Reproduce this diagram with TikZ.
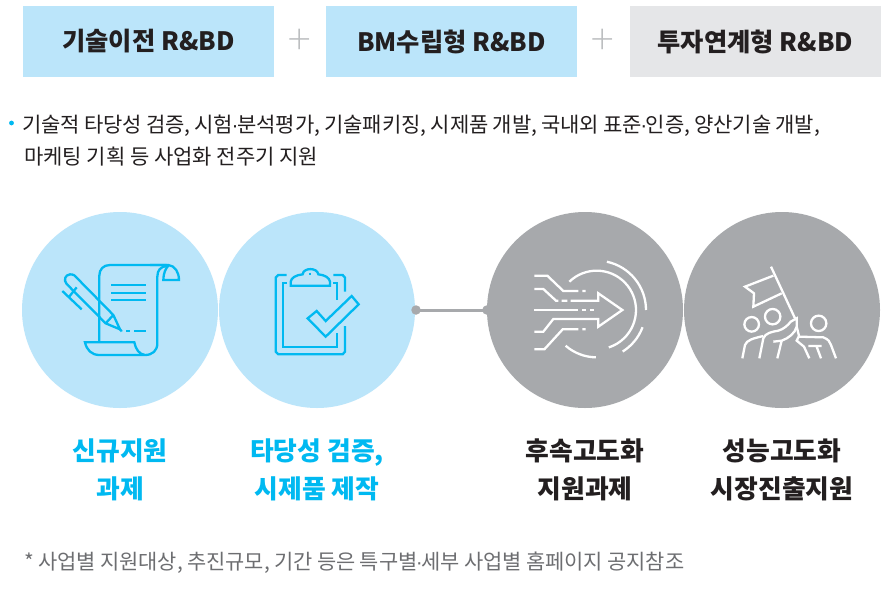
\documentclass[tikz,border=0pt]{standalone}
\usepackage{fontspec}
\setmainfont{Noto Sans CJK KR}
\newfontfamily\plusfont{Lato Light}
\newfontfamily\dotfont{Liberation Sans}
\newcommand{\middotk}{\kern-1.5pt{\dotfont ·}\kern-1.5pt}
\definecolor{lblue}{HTML}{BBE5FA}
\definecolor{lgray}{HTML}{E5E6E8}
\definecolor{cgray}{HTML}{A7A9AC}
\definecolor{cyanc}{HTML}{00B9F1}
\definecolor{ink}{HTML}{231F20}
\definecolor{plusc}{HTML}{BCBEC0}
\definecolor{capc}{HTML}{6D6E71}
\tikzset{
  topbox/.style={minimum width=251pt,minimum height=71pt,inner sep=0pt,text=ink,font=\fontsize{25.3}{30}\selectfont\bfseries},
  bigc/.style={circle,minimum size=196pt,inner sep=0pt},
  dotn/.style={circle,fill=cgray,minimum size=9.5pt,inner sep=0pt},
  lab/.style={align=center,font=\fontsize{25.8}{38}\selectfont\bfseries,inner sep=0pt},
  body/.style={anchor=west,inner sep=0pt,text=ink,font=\fontsize{21}{21}\selectfont},
  capt/.style={anchor=west,inner sep=0pt,text=capc,font=\fontsize{20.9}{21}\selectfont},
  plusn/.style={text=plusc,inner sep=0pt,font=\plusfont\fontsize{42}{42}\selectfont},
  ico/.style={line width=2.3pt,line join=miter},
}
\begin{document}
\begin{tikzpicture}[x=1pt,y=-1pt]
\useasboundingbox (0,0) rectangle (893,595);
\fill[white] (0,0) rectangle (893,595);
\node[topbox,fill=lblue] (b1) at (148.5,41.5) {\raisebox{-1pt}{기술이전 R\&BD}};
\node[topbox,fill=lblue] (b2) at (451.5,41.5) {\raisebox{-1pt}{BM수립형 R\&BD}};
\node[topbox,fill=lgray] (b3) at (755.5,41.5) {\raisebox{-1pt}{투자연계형 R\&BD}};
\node[plusn] (p1) at (300,41) {+};
\node[plusn] (p2) at (603,41) {+};
\fill[cyanc] (11.5,123) circle (2.4);
\node[body] (t1) at (22,125.5) {\spaceskip=4pt 기술적 타당성 검증, 시험\middotk 분석평가, 기술패키징, 시제품 개발, 국내외 표준\middotk 인증, 양산기술 개발,};
\node[body] (t2) at (24,157) {마케팅 기획 등 사업화 전주기 지원};
\node[bigc,fill=lblue] (c1) at (120,310) {};
\node[bigc,fill=lblue] (c2) at (317,310) {};
\node[dotn] (d1) at (416,310) {};
\node[dotn] (d2) at (487,310) {};
\draw[cgray,line width=3pt] (d1.center) -- (d2.center);
\node[bigc,fill=cgray] (c3) at (585,310) {};
\node[bigc,fill=cgray] (c4) at (782,310) {};
\node[lab,text=cyanc] (l1) at (120,470) {신규지원\\과제};
\node[lab,text=cyanc] (l2) at (317,470) {타당성 검증,\\시제품 제작};
\node[lab,text=ink] (l3) at (585,470) {후속고도화\\지원과제};
\node[lab,text=ink] (l4) at (782,470) {성능고도화\\시장진출지원};
\node[capt] (cap) at (24,563) {\spaceskip=4.3pt * 사업별 지원대상, 추진규모, 기간 등은 특구별\middotk 세부 사업별 홈페이지 공지참조};
% icons in zoom coordinates
\begin{scope}[shift={(20,210)},x=0.33333pt,y=-0.33333pt,ico,draw=cyanc]
 \draw (238,395) -- (238,197) .. controls (238,178) and (250,165) .. (270,165) -- (440,165);
 \draw (390,165) -- (445,165) .. controls (465,167) and (477,187) .. (477,210) -- (430,210) .. controls (430,190) and (437,175) .. (445,167);
 \draw (440,168) .. controls (422,170) and (412,180) .. (412,200) -- (412,400) .. controls (412,422) and (397,435) .. (375,435) .. controls (358,433) and (347,418) .. (343,397) -- (195,397) .. controls (200,420) and (215,435) .. (238,435) -- (375,435);
 \draw (273,225) -- (377,225) (273,248) -- (377,248) (273,271) -- (377,271) (318,363) -- (330,363) (343,363) -- (377,363);
 \draw (163,196) -- (280,315) -- (300,358) -- (257,340) -- (140,222) .. controls (130,210) and (135,195) .. (150,193) .. controls (155,193) and (160,194) .. (163,196);
 \draw (280,315) -- (257,340) (127,243) -- (185,298) (146,262) -- (170,232) (300,358) -- (305,364);
\end{scope}
\begin{scope}[shift={(20,210)},x=0.33333pt,y=-0.33333pt,ico,draw=cyanc]
 \draw (800,195) -- (775,195) -- (767,203) -- (767,425) -- (775,433) -- (968,433) -- (975,425) -- (975,348);
 \draw (940,195) -- (968,195) -- (975,203) -- (975,245);
 \draw (800,218) -- (790,218) -- (790,410) -- (952,410) -- (952,370);
 \draw (940,218) -- (952,218) -- (952,270);
 \draw (812,227) -- (930,227) -- (930,215) .. controls (928,203) and (915,195) .. (895,193) .. controls (892,172) and (850,172) .. (848,193) .. controls (828,195) and (814,203) .. (812,215) -- cycle;
 \draw (870,188) -- (870,195);
 \draw (863,325) -- (890,303) -- (917,333) -- (995,258) -- (1016,283) -- (917,380) -- cycle;
\end{scope}
\begin{scope}[shift={(480,210)},x=0.33333pt,y=-0.33333pt,ico,draw=white]
 \draw (163,197) -- (202,197) -- (250,243) -- (295,243) (307,243) -- (317,243);
 \draw (163,237) -- (190,237) -- (228,272) -- (235,272) (245,272) -- (262,272);
 \draw (272,272) -- (355,272) -- (355,250) -- (427,300) -- (355,350) -- (355,327) -- (220,327) -- (190,365) -- (163,365);
 \draw (163,300) -- (295,300) (307,300) -- (317,300) (330,300) -- (342,300);
 \draw (163,418) -- (193,418) -- (248,358) -- (295,358) (307,358) -- (317,358);
 \draw ({350+118*cos(134)},{300-118*sin(134)}) arc[start angle=134,end angle=-72,radius=39.33pt];
 \draw ({350+142*cos(229)},{300-142*sin(229)}) arc[start angle=229,end angle=269,radius=47.33pt];
 \draw ({350+148*cos(78)},{300-148*sin(78)}) arc[start angle=78,end angle=0,radius=49.33pt];
 \draw ({350+147*cos(-20.6)},{300-147*sin(-20.6)}) arc[start angle=-20.6,end angle=-58,radius=49pt];
\end{scope}
\begin{scope}[shift={(480,210)},x=0.33333pt,y=-0.33333pt,ico,draw=white]
 \draw (873,170) -- (945,325);
 \draw (880,197) -- (795,230) -- (822,250) -- (820,290) -- (905,250);
 \draw (815,343) circle (7.3pt) (878,320) circle (7.7pt) (1016,340) circle (7.7pt);
 \draw (787,445) -- (795,405) .. controls (800,390) and (820,385) .. (850,378);
 \draw (838,445) -- (850,385) .. controls (855,370) and (875,365) .. (895,362) .. controls (910,358) and (925,345) .. (932,335) -- (950,325) -- (950,350) .. controls (945,370) and (925,385) .. (905,392) -- (880,395);
 \draw (905,392) -- (892,445);
 \draw (950,350) -- (957,378) -- (950,392) -- (972,410) -- (988,445);
 \draw (957,380) -- (1030,382) .. controls (1045,388) and (1050,395) .. (1053,405) -- (1068,445);
 \draw (985,408) -- (1025,408) (1010,410) -- (1023,445);
\end{scope}
\end{tikzpicture}
\end{document}
